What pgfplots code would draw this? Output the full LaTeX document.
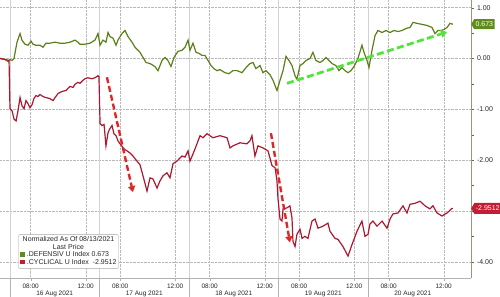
\documentclass[border=0pt]{standalone}
\usepackage{fontspec}
\setmainfont{Liberation Sans}
\usepackage{pgfplots}
\pgfplotsset{compat=1.18}
\usetikzlibrary{arrows.meta,shapes.symbols}
\definecolor{defgreen}{RGB}{92,128,24}
\definecolor{cycred}{RGB}{172,24,48}
\definecolor{taggreen}{RGB}{96,140,30}
\definecolor{tagred}{RGB}{196,28,52}
\definecolor{arrgreen}{RGB}{80,228,60}
\definecolor{arrred}{RGB}{222,40,40}
\definecolor{axcol}{RGB}{150,150,120}
\begin{document}
\begin{tikzpicture}
\path[use as bounding box] (0,-19bp) rectangle (500bp,278bp);
\begin{axis}[
  at={(0,0)}, anchor=south west,
  scale only axis, width=471bp, height=278bp,
  xmin=-0.726, xmax=33.48, ymin=-4.32, ymax=1.15,
  clip=false,
  axis x line*=bottom, axis y line*=right,
  axis line style={-},
  x axis line style={draw=gray!60},
  y axis line style={draw=axcol, line width=0.8pt},
  xtick={1.5,5.5,8,12,14.5,18.5,21,25,27.5,31.5},
  xticklabels={08:00,12:00,08:00,12:00,08:00,12:00,08:00,12:00,08:00,12:00},
  xticklabel style={font=\fontsize{6.5}{7}\selectfont, text=black!85, yshift=0.5bp},
  x tick style={draw=gray!60},
  major tick length=2.5bp,
  tick align=outside,
  ytick={-4,-3,-2,-1,0,1},
  yticklabels={-4.00,,-2.00,-1.00,0.00,1.00},
  minor y tick num=1,
  y tick style={draw=black!60},
  yticklabel style={font=\fontsize{7}{8}\selectfont, text=black!85},
  xmajorgrids, ymajorgrids,
  major grid style={densely dotted, draw=gray!55},
  extra x ticks={0,6.5,13,19.5,26},
  extra x tick labels={},
  extra x tick style={major tick length=19bp, tick style={draw=gray!45, solid}, major grid style={draw=gray!35, solid}},
]
% DEFENSIV
\addplot[defgreen, line width=1.2pt] coordinates {
(-0.73,0) (-0.36,-0.02) (-0.15,-0.06) (0,-0.02) (0.15,-0.04) (0.29,0)
(0.51,0.32) (0.73,0.49) (0.87,0.36) (1.09,0.28) (1.31,0.26) (1.53,0.34)
(1.67,0.28) (1.89,0.26) (2.18,0.26) (2.40,0.22) (2.61,0.30) (2.90,0.30)
(3.27,0.32) (3.63,0.30) (3.99,0.30) (4.36,0.32) (4.72,0.36) (4.94,0.32)
(5.08,0.28) (5.45,0.28) (5.81,0.30) (6.17,0.36) (6.39,0.49) (6.54,0.26)
(6.75,0.36) (6.97,0.32) (7.12,0.51) (7.26,0.43) (7.48,0.40) (7.70,0.26)
(7.84,0.36) (8.13,0.49) (8.35,0.55) (8.57,0.43) (8.86,0.32) (9.08,0.22)
(9.44,0.12) (9.66,0.02) (9.88,-0.08) (10.17,-0.10) (10.53,-0.16) (10.75,-0.24)
(11.04,-0.04) (11.26,0.02) (11.47,-0.04) (11.69,-0.16) (11.91,0.02) (12.20,0.14)
(12.49,0.16) (12.71,0.22) (12.93,0.36) (13.07,0.16) (13.29,0.30) (13.51,0.12)
(13.73,0.10) (13.94,0.06) (14.16,0.06) (14.38,-0.04) (14.60,-0.14) (14.81,-0.20)
(15.03,-0.24) (15.25,-0.22) (15.61,-0.28) (15.90,-0.30) (16.19,-0.24) (16.49,-0.24)
(16.85,-0.28) (17.14,-0.18) (17.43,-0.10) (17.65,-0.08) (17.86,-0.20) (18.16,-0.14)
(18.37,-0.28) (18.59,-0.24) (18.88,-0.32) (19.10,-0.43) (19.39,-0.63) (19.61,-0.43)
(19.83,-0.24) (20.04,0.04) (20.26,-0.04) (20.48,-0.14) (20.70,-0.34) (20.84,-0.41)
(21.06,-0.14) (21.28,-0.10) (21.50,-0.04) (21.79,0) (22.00,0.12) (22.22,-0.04)
(22.51,-0.08) (22.73,-0.04) (22.95,0.02) (23.17,-0.04) (23.38,-0.10) (23.67,-0.14)
(23.89,-0.24) (24.11,-0.18) (24.33,-0.24) (24.55,-0.28) (24.76,-0.24) (24.98,-0.16)
(25.27,0) (25.56,0.26) (25.71,0.12) (25.93,-0.04) (26.07,-0.18) (26.29,0.16)
(26.51,0.45) (26.72,0.55) (27.02,0.51) (27.31,0.55) (27.60,0.51) (27.89,0.55)
(28.18,0.53) (28.47,0.55) (28.76,0.59) (29.05,0.61) (29.27,0.71) (29.56,0.69)
(29.92,0.67) (30.28,0.65) (30.65,0.61) (30.86,0.49) (31.08,0.55) (31.30,0.55)
(31.52,0.57) (31.74,0.61) (31.95,0.69) (32.17,0.673)
};
% CYCLICAL
\addplot[cycred, line width=1.2pt] coordinates {
(-0.73,0) (-0.36,-0.02) (-0.07,-0.04) (0,-0.99) (0.15,-1.03) (0.29,-1.19)
(0.44,-1.23) (0.58,-1.03) (0.73,-0.77) (0.87,-0.93) (1.02,-0.99) (1.16,-0.83)
(1.31,-0.89) (1.45,-0.97) (1.60,-0.91) (1.74,-0.79) (1.89,-0.73) (2.03,-0.75)
(2.18,-0.71) (2.40,-0.75) (2.61,-0.77) (2.90,-0.79) (3.12,-0.83) (3.27,-0.77)
(3.49,-0.69) (3.78,-0.65) (4.07,-0.63) (4.21,-0.59) (4.36,-0.55) (4.58,-0.57)
(4.72,-0.51) (4.94,-0.47) (5.08,-0.49) (5.30,-0.43) (5.45,-0.40) (5.66,-0.38)
(5.96,-0.40) (6.17,-0.38) (6.39,-0.34) (6.46,-0.36) (6.54,-1.28) (6.68,-1.32)
(6.83,-1.30) (6.97,-1.72) (7.12,-1.46) (7.26,-1.38) (7.41,-1.32) (7.55,-1.48)
(7.70,-1.52) (7.84,-1.62) (7.99,-1.68) (8.28,-1.78) (8.50,-1.82) (8.71,-1.86)
(8.93,-1.92) (9.22,-2.02) (9.44,-2.09) (9.66,-2.31) (9.95,-2.61) (10.17,-2.35)
(10.38,-2.37) (10.68,-2.55) (10.89,-2.41) (11.11,-2.31) (11.40,-2.25) (11.62,-2.35)
(11.84,-2.07) (12.13,-2.02) (12.49,-1.92) (12.71,-1.94) (12.93,-1.82) (13.07,-2.02)
(13.29,-1.88) (13.58,-1.68) (13.80,-1.52) (14.02,-1.56) (14.31,-1.48) (14.52,-1.52)
(14.74,-1.56) (15.25,-1.52) (15.76,-1.56) (15.98,-1.76) (16.19,-1.72) (16.70,-1.66)
(17.21,-1.68) (17.43,-1.62) (17.57,-1.52) (17.79,-1.92) (18.01,-1.72) (18.37,-1.76)
(18.74,-1.82) (19.03,-2.11) (19.25,-2.15) (19.39,-2.41) (19.46,-2.75) (19.61,-3.16)
(19.75,-3.20) (19.83,-2.96) (20.12,-2.94) (20.33,-2.90) (20.48,-3.14) (20.55,-3.60)
(20.70,-3.70) (20.84,-3.46) (21.06,-3.36) (21.21,-3.54) (21.42,-3.50) (21.64,-3.54)
(21.93,-3.20) (22.15,-3.16) (22.37,-3.34) (22.73,-3.30) (23.09,-3.24) (23.24,-3.40)
(23.60,-3.54) (23.82,-3.56) (24.18,-3.70) (24.55,-3.89) (24.84,-3.66) (25.20,-3.40)
(25.56,-3.20) (25.78,-3.50) (26.00,-3.46) (26.14,-3.26) (26.36,-3.20) (26.65,-3.30)
(27.02,-3.20) (27.38,-3.34) (27.60,-3.16) (27.81,-3.06) (28.18,-3.04) (28.54,-2.90)
(28.83,-3.04) (29.05,-2.87) (29.41,-2.85) (29.78,-2.81) (30.14,-2.90) (30.50,-2.96)
(30.72,-2.90) (31.01,-3.04) (31.37,-3.10) (31.74,-3.04) (32.10,-2.95) (32.17,-2.9512)
};
% annotation arrows
\addplot[arrred, line width=2.4pt, dash pattern=on 6bp off 3bp, -{Triangle[length=6bp,width=7bp]}] coordinates {(7.04,-0.37) (8.93,-2.63)};
\addplot[arrred, line width=2.4pt, dash pattern=on 6bp off 3bp, -{Triangle[length=6bp,width=7bp]}] coordinates {(18.95,-1.47) (20.33,-3.62)};
\addplot[arrgreen, line width=2.8pt, dash pattern=on 7bp off 3.5bp, -{Triangle[length=6bp,width=8bp]}] coordinates {(20.12,-0.49) (31.74,0.52)};
% value tags
\node[signal, signal to=west, signal pointer angle=120, fill=taggreen, text=white, font=\fontsize{7}{8}\selectfont, inner sep=1.5bp, minimum height=10bp, anchor=west] at (axis cs:33.48,0.673) {0.673};
\node[signal, signal to=west, signal pointer angle=120, fill=tagred, text=white, font=\fontsize{7}{8}\selectfont, inner sep=1.5bp, minimum height=11bp, anchor=west] at (axis cs:33.48,-2.9512) {-2.9512};
% day labels
\node[font=\fontsize{6.5}{7}\selectfont, text=black!85, yshift=-15.5bp] at (axis cs:3.25,-4.32) {16 Aug 2021};
\node[font=\fontsize{6.5}{7}\selectfont, text=black!85, yshift=-15.5bp] at (axis cs:9.75,-4.32) {17 Aug 2021};
\node[font=\fontsize{6.5}{7}\selectfont, text=black!85, yshift=-15.5bp] at (axis cs:16.25,-4.32) {18 Aug 2021};
\node[font=\fontsize{6.5}{7}\selectfont, text=black!85, yshift=-15.5bp] at (axis cs:22.75,-4.32) {19 Aug 2021};
\node[font=\fontsize{6.5}{7}\selectfont, text=black!85, yshift=-15.5bp] at (axis cs:29.25,-4.32) {20 Aug 2021};
% legend
\node[draw=gray!70, rounded corners=2bp, fill=white, inner sep=2bp, font=\fontsize{7}{8}\selectfont, text=black!85] at (rel axis cs:0.1454,0.0953) {%
\renewcommand{\arraystretch}{0.95}%
\begin{tabular}{@{}l@{}}
\multicolumn{1}{@{}c@{}}{Normalized As Of 08/13/2021}\\
\multicolumn{1}{@{}c@{}}{Last Price}\\
\textcolor{taggreen}{\rule{4.5bp}{4.5bp}} .DEFENSIV U Index 0.673\\
\textcolor{tagred}{\rule{4.5bp}{4.5bp}} .CYCLICAL U Index\ \ -2.9512
\end{tabular}};
\end{axis}
\end{tikzpicture}
\end{document}
